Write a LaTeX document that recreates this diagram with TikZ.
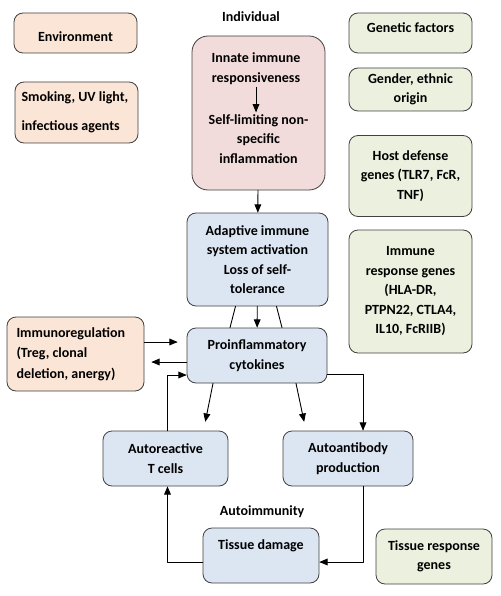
\documentclass[tikz,border=0pt]{standalone}
\usepackage{fontspec}
\setmainfont{Carlito}
\usepackage{tikz}
\usetikzlibrary{arrows}
\definecolor{envfill}{HTML}{FBE5D6}
\definecolor{innfill}{HTML}{F2DCDB}
\definecolor{adafill}{HTML}{DCE6F2}
\definecolor{genfill}{HTML}{EBF1DE}
\definecolor{boxline}{HTML}{404040}
\begin{document}
\begin{tikzpicture}[line cap=round,line join=round,>=triangle 45,x=1pt,y=-1pt,
  font=\fontsize{14}{19.5}\selectfont\bfseries,
  box/.style={draw=boxline,line width=0.8pt,rounded corners=9pt,align=center,inner sep=0pt},
  envbox/.style={box,fill=envfill},
  innbox/.style={box,fill=innfill,rounded corners=16pt},
  adabox/.style={box,fill=adafill},
  genbox/.style={box,fill=genfill,minimum width=123pt},
  lbl/.style={inner sep=0pt,align=center},
  conn/.style={line width=0.9pt}]
\useasboundingbox (0,0) rectangle (500,596);
% left column
\node[envbox,minimum width=123pt,minimum height=40pt,text height=17pt] (env) at (75.5,33) {Environment};
\node[envbox,minimum width=123pt,minimum height=61pt,text width=110pt,align=flush left] (smoke) at (76.5,112.5) {Smoking, UV light,\\[9.5pt]infectious agents};
\node[envbox,minimum width=137pt,minimum height=74pt,text width=118pt,align=flush left] (immreg) at (75.5,354) {Immunoregulation\\[1pt](Treg, clonal\\[1pt]deletion, anergy)};
% centre column
\node[lbl] (indiv) at (251,17) {Individual};
\node[innbox,minimum width=133pt,minimum height=154pt] (innate) at (258.5,113) {};
\node[lbl] (innresp) at (256,68.5) {Innate immune\\responsiveness};
\node[lbl] (selflim) at (258.5,139) {Self-limiting non-\\specific\\inflammation};
\node[adabox,minimum width=141pt,minimum height=93pt] (adapt) at (257.5,259.5) {Adaptive immune\\system activation\\Loss of self-\\tolerance};
\node[adabox,minimum width=140pt,minimum height=55pt] (proinf) at (257,355.5) {Proinflammatory\\cytokines};
\node[adabox,minimum width=125pt,minimum height=55pt] (autot) at (165.5,458.5) {Autoreactive\\T cells};
\node[adabox,minimum width=130pt,minimum height=55pt] (autoab) at (348,458.5) {Autoantibody\\production};
\node[lbl] (autoimm) at (262,512) {Autoimmunity};
\node[adabox,minimum width=116pt,minimum height=55pt,text depth=21pt] (tissue) at (261,555.5) {Tissue damage};
% right column
\node[genbox,minimum height=40pt,text depth=11pt] (genet) at (410.5,33) {Genetic factors};
\node[genbox,minimum height=43pt] (gender) at (410.5,89.5) {Gender, ethnic\\origin};
\node[genbox,minimum height=81pt] (host) at (410.5,176) {Host defense\\genes (TLR7, FcR,\\TNF)};
\node[genbox,minimum height=123pt] (immgen) at (410.5,291.5) {Immune\\response genes\\(HLA-DR,\\PTPN22, CTLA4,\\IL10, FcRIIB)};
\node[genbox,minimum width=116pt,minimum height=55pt] (tissgen) at (434,556.5) {Tissue response\\genes};
% connectors
\draw[conn,->,shorten <=3pt,shorten >=2pt] (innresp) -- (innresp |- selflim.north);
\draw[conn,->] (innate) -- (adapt);
\draw[conn,->] (adapt) -- (proinf);
\draw[conn] ([xshift=-22pt]adapt.south) -- ([xshift=-27pt]proinf.north);
\draw[conn] ([xshift=19pt]adapt.south) -- ([xshift=25pt]proinf.north);
\draw[conn,->,shorten >=9pt] ([yshift=12pt]immreg.east) -- ([yshift=12pt]immreg.east -| proinf.west);
\draw[conn,->,shorten >=7pt] ([yshift=-6.5pt]proinf.west) -- ([yshift=-6.5pt]proinf.west -| immreg.east);
\draw[conn,->] ([xshift=2pt]autot.north) |- ([yshift=-19.5pt]proinf.west);
\draw[conn,->,shorten >=9pt] ([xshift=-44pt]proinf.south) -- ([xshift=38pt]autot.north);
\draw[conn,->,shorten >=9pt] ([xshift=39pt]proinf.south) -- ([xshift=-42pt]autoab.north);
\draw[conn,->] ([yshift=-18.5pt]proinf.east) -| ([xshift=15pt]autoab.north);
\draw[conn,->] ([xshift=15pt]autoab.south) |- ([yshift=-6.5pt]tissue.east);
\draw[conn,->] ([yshift=-6.5pt]tissue.west) -| ([xshift=2pt]autot.south);
\end{tikzpicture}
\end{document}
